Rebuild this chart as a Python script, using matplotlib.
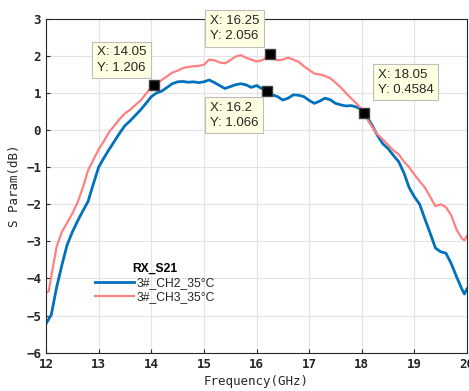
import matplotlib
matplotlib.use("Agg")
import matplotlib.pyplot as plt

freq_ch2 = [12.0, 12.1, 12.2, 12.3, 12.4, 12.5, 12.6, 12.7, 12.8, 12.9,
            13.0, 13.1, 13.2, 13.3, 13.4, 13.5, 13.6, 13.7, 13.8, 13.9,
            14.0, 14.05, 14.1, 14.2, 14.3, 14.4, 14.5, 14.6, 14.7, 14.8, 14.9,
            15.0, 15.1, 15.2, 15.3, 15.4, 15.5, 15.6, 15.7, 15.8, 15.9,
            16.0, 16.1, 16.2, 16.3, 16.4, 16.5, 16.6, 16.7, 16.8, 16.9,
            17.0, 17.1, 17.2, 17.3, 17.4, 17.5, 17.6, 17.7, 17.8, 17.9,
            18.0, 18.05, 18.1, 18.2, 18.3, 18.4, 18.5, 18.6, 18.7, 18.8, 18.9,
            19.0, 19.1, 19.2, 19.3, 19.4, 19.5, 19.6, 19.7, 19.8, 19.9, 19.95, 20.0]
s21_ch2 = [-5.22, -4.98, -4.25, -3.65, -3.10, -2.75, -2.45, -2.18, -1.92, -1.45,
           -1.00, -0.75, -0.52, -0.30, -0.08, 0.12, 0.25, 0.40, 0.55, 0.72,
           0.90, 0.95, 1.00, 1.05, 1.15, 1.25, 1.30, 1.31, 1.29, 1.30, 1.28,
           1.30, 1.35, 1.28, 1.20, 1.12, 1.17, 1.22, 1.25, 1.22, 1.15,
           1.20, 1.12, 1.066, 0.95, 0.90, 0.81, 0.86, 0.95, 0.94, 0.90,
           0.80, 0.72, 0.78, 0.86, 0.82, 0.72, 0.68, 0.65, 0.66, 0.62,
           0.55, 0.4584, 0.35, 0.12, -0.15, -0.37, -0.50, -0.68, -0.85, -1.15, -1.55,
           -1.80, -2.00, -2.40, -2.78, -3.18, -3.28, -3.32, -3.60, -3.95, -4.28, -4.42, -4.28]

freq_ch3 = [12.0, 12.05, 12.1, 12.2, 12.3, 12.4, 12.5, 12.6, 12.7, 12.8, 12.9,
            13.0, 13.1, 13.2, 13.3, 13.4, 13.5, 13.6, 13.7, 13.8, 13.9,
            14.0, 14.05, 14.1, 14.2, 14.3, 14.4, 14.5, 14.6, 14.7, 14.8, 14.9,
            15.0, 15.1, 15.2, 15.3, 15.4, 15.5, 15.6, 15.7, 15.8, 15.9,
            16.0, 16.1, 16.2, 16.25, 16.3, 16.4, 16.5, 16.6, 16.7, 16.8, 16.9,
            17.0, 17.1, 17.2, 17.3, 17.4, 17.5, 17.6, 17.7, 17.8, 17.9,
            18.0, 18.05, 18.1, 18.2, 18.3, 18.4, 18.5, 18.6, 18.7, 18.8, 18.9,
            19.0, 19.1, 19.2, 19.3, 19.4, 19.5, 19.6, 19.7, 19.8, 19.9, 19.95, 20.0]
s21_ch3 = [-4.38, -4.35, -3.95, -3.15, -2.75, -2.50, -2.25, -1.95, -1.55, -1.08, -0.80,
           -0.52, -0.30, -0.05, 0.12, 0.30, 0.45, 0.55, 0.68, 0.80, 0.98,
           1.15, 1.206, 1.25, 1.35, 1.45, 1.55, 1.60, 1.67, 1.70, 1.72, 1.73,
           1.76, 1.90, 1.88, 1.82, 1.80, 1.88, 1.98, 2.02, 1.95, 1.90,
           1.85, 1.88, 1.96, 2.056, 1.95, 1.88, 1.90, 1.95, 1.90, 1.84, 1.72,
           1.62, 1.52, 1.50, 1.46, 1.40, 1.28, 1.15, 1.00, 0.85, 0.72,
           0.55, 0.4584, 0.30, 0.08, -0.12, -0.25, -0.40, -0.55, -0.65, -0.85, -1.00,
           -1.20, -1.38, -1.55, -1.80, -2.05, -2.00, -2.08, -2.30, -2.68, -2.92, -2.97, -2.85]

tips_x = [14.05, 16.25, 16.2, 18.05]
tips_y = [1.206, 2.056, 1.066, 0.4584]
tip_labels = ["X: 14.05\nY: 1.206", "X: 16.25\nY: 2.056", "X: 16.2\nY: 1.066", "X: 18.05\nY: 0.4584"]
tip_offsets = [(-41, 8.5), (-43, 8.5), (-41, -8), (9.5, 12.5)]
tip_va = ["bottom", "bottom", "top", "bottom"]

series_names = ["3#_CH2_35°C", "3#_CH3_35°C"]
legend_title = "RX_S21"
xticks = [12, 13, 14, 15, 16, 17, 18, 19, 20]
yticks = [-6, -5, -4, -3, -2, -1, 0, 1, 2, 3]

fig = plt.figure(figsize=(4.69, 3.91), dpi=100)
ax = fig.add_axes([0.0981, 0.098, 0.8977, 0.854])

ax.plot(freq_ch2, s21_ch2, color="#0072BD", lw=2.0, label=series_names[0])
ax.plot(freq_ch3, s21_ch3, color="#FF8080", lw=1.6, label=series_names[1])

ax.set_xlim(12, 20)
ax.set_ylim(-6, 3)
ax.set_xticks(xticks)
ax.set_yticks(yticks)
ax.grid(True, color="#e3e3e3", lw=0.8)
ax.set_axisbelow(True)
for s in ax.spines.values():
    s.set_color("#262626")
    s.set_linewidth(0.8)
ax.tick_params(direction="in", length=3, color="#262626", labelcolor="#262626",
               labelsize=9)
for lab in ax.get_xticklabels() + ax.get_yticklabels():
    lab.set_family("DejaVu Sans Mono")
    lab.set_fontweight("bold")

ax.set_xlabel("Frequency(GHz)", family="DejaVu Sans Mono", fontsize=9, color="#262626", labelpad=3)
ax.set_ylabel("S Param(dB)", family="DejaVu Sans Mono", fontsize=9, color="#262626", labelpad=4)

for x, y, t, off, va in zip(tips_x, tips_y, tip_labels, tip_offsets, tip_va):
    ax.plot([x], [y], marker="s", ms=7, color="black", mec="#404040", zorder=5)
    ax.annotate(t, xy=(x, y), xytext=off, textcoords="offset points",
                ha="left", va=va,
                fontsize=9.5, family="Liberation Sans", color="#262626", linespacing=1.35,
                bbox=dict(boxstyle="square,pad=0.35", fc="#ffffe1", ec="#bdbdbd", lw=0.8),
                zorder=6)

leg = ax.legend(loc="lower left", bbox_to_anchor=(0.105, 0.133), frameon=False,
                title=legend_title, fontsize=8.7, handlelength=3.2,
                handletextpad=0.2, labelspacing=0.2, borderaxespad=0)
leg.get_title().set_fontweight("bold")
leg.get_title().set_fontsize(8.7)
leg.get_title().set_family("Liberation Sans")
for t in leg.get_texts():
    t.set_family("Liberation Sans")
    t.set_color("#262626")

fig.savefig("out.png", dpi=100)
